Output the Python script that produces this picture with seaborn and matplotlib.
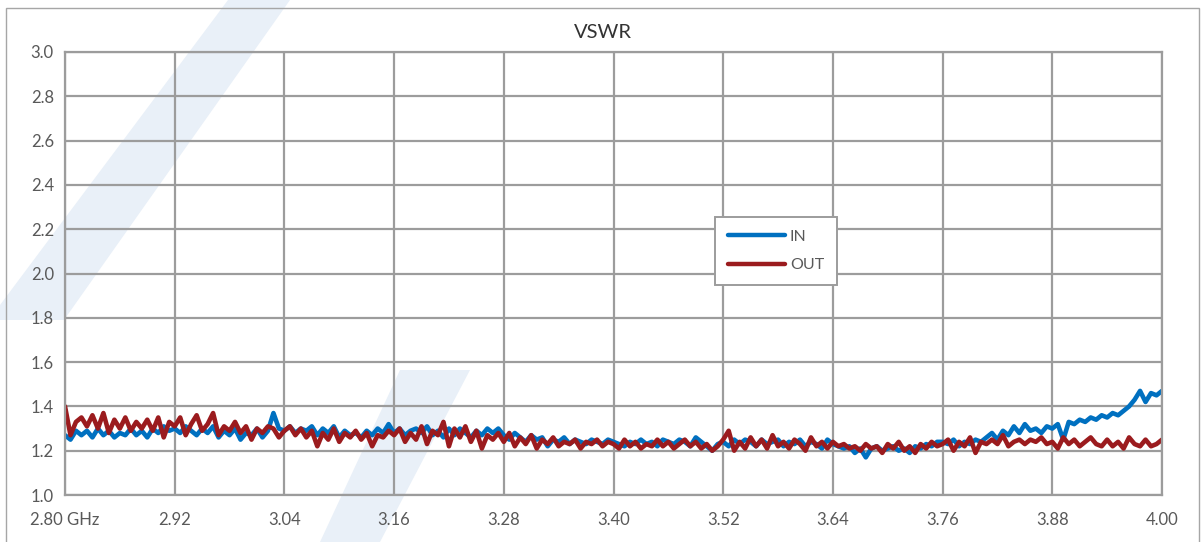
import numpy as np
import pandas as pd
import matplotlib
matplotlib.use("Agg")
import matplotlib.pyplot as plt
from matplotlib.patches import Polygon, Rectangle
import seaborn as sns

# ---- data ----
freq_start, freq_step = 2.80, 0.006
vswr_in = [
    1.27, 1.25, 1.29, 1.27, 1.29, 1.26, 1.30, 1.27, 1.29, 1.26, 1.28, 1.27, 1.30, 1.27, 1.29, 1.26, 1.30, 1.28, 1.31, 1.29,
    1.30, 1.28, 1.31, 1.29, 1.27, 1.30, 1.28, 1.31, 1.26, 1.29, 1.27, 1.30, 1.25, 1.28, 1.27, 1.30, 1.26, 1.29, 1.37, 1.30,
    1.29, 1.31, 1.28, 1.30, 1.29, 1.31, 1.27, 1.30, 1.28, 1.31, 1.26, 1.29, 1.27, 1.28, 1.26, 1.29, 1.27, 1.30, 1.28, 1.32,
    1.28, 1.30, 1.27, 1.29, 1.30, 1.28, 1.31, 1.27, 1.29, 1.26, 1.30, 1.27, 1.30, 1.28, 1.26, 1.29, 1.27, 1.30, 1.28, 1.30,
    1.27, 1.25, 1.28, 1.26, 1.24, 1.27, 1.25, 1.26, 1.22, 1.25, 1.24, 1.26, 1.23, 1.25, 1.24, 1.23, 1.25, 1.24, 1.23, 1.25,
    1.24, 1.23, 1.22, 1.24, 1.23, 1.25, 1.23, 1.24, 1.22, 1.25, 1.24, 1.23, 1.25, 1.24, 1.22, 1.26, 1.24, 1.22, 1.20, 1.23,
    1.24, 1.22, 1.25, 1.23, 1.25, 1.24, 1.22, 1.25, 1.23, 1.24, 1.25, 1.22, 1.24, 1.23, 1.25, 1.22, 1.24, 1.23, 1.21, 1.25,
    1.23, 1.22, 1.21, 1.22, 1.19, 1.21, 1.17, 1.21, 1.22, 1.20, 1.21, 1.22, 1.20, 1.21, 1.19, 1.22, 1.21, 1.23, 1.22, 1.24,
    1.24, 1.23, 1.25, 1.22, 1.24, 1.23, 1.25, 1.24, 1.26, 1.28, 1.25, 1.29, 1.27, 1.31, 1.28, 1.32, 1.29, 1.30, 1.28, 1.31,
    1.30, 1.32, 1.25, 1.33, 1.32, 1.34, 1.33, 1.35, 1.34, 1.36, 1.35, 1.37, 1.36, 1.38, 1.40, 1.43, 1.47, 1.42, 1.46, 1.45,
    1.47,
]
vswr_out = [
    1.40, 1.27, 1.33, 1.35, 1.31, 1.36, 1.30, 1.37, 1.28, 1.34, 1.30, 1.35, 1.29, 1.33, 1.30, 1.34, 1.29, 1.35, 1.26, 1.33,
    1.31, 1.35, 1.27, 1.32, 1.36, 1.29, 1.32, 1.37, 1.27, 1.31, 1.29, 1.33, 1.28, 1.31, 1.25, 1.30, 1.28, 1.31, 1.30, 1.26,
    1.29, 1.31, 1.27, 1.30, 1.26, 1.29, 1.22, 1.28, 1.25, 1.30, 1.24, 1.28, 1.26, 1.29, 1.25, 1.28, 1.22, 1.27, 1.26, 1.29,
    1.27, 1.30, 1.24, 1.28, 1.25, 1.31, 1.23, 1.29, 1.27, 1.33, 1.22, 1.30, 1.26, 1.31, 1.24, 1.29, 1.21, 1.27, 1.25, 1.28,
    1.24, 1.28, 1.22, 1.26, 1.23, 1.27, 1.21, 1.25, 1.23, 1.26, 1.22, 1.24, 1.23, 1.25, 1.21, 1.24, 1.23, 1.25, 1.22, 1.24,
    1.23, 1.21, 1.25, 1.22, 1.24, 1.21, 1.23, 1.22, 1.25, 1.22, 1.24, 1.21, 1.23, 1.25, 1.22, 1.24, 1.21, 1.23, 1.20, 1.22,
    1.25, 1.29, 1.20, 1.24, 1.21, 1.26, 1.22, 1.25, 1.21, 1.27, 1.22, 1.24, 1.21, 1.25, 1.23, 1.20, 1.26, 1.22, 1.24, 1.21,
    1.24, 1.22, 1.23, 1.21, 1.22, 1.20, 1.23, 1.21, 1.22, 1.19, 1.23, 1.21, 1.24, 1.20, 1.22, 1.19, 1.23, 1.21, 1.24, 1.22,
    1.23, 1.25, 1.20, 1.24, 1.22, 1.26, 1.19, 1.24, 1.23, 1.25, 1.23, 1.27, 1.22, 1.24, 1.25, 1.23, 1.25, 1.24, 1.26, 1.23,
    1.24, 1.21, 1.26, 1.23, 1.25, 1.22, 1.24, 1.26, 1.23, 1.22, 1.25, 1.22, 1.24, 1.21, 1.26, 1.23, 1.22, 1.25, 1.22, 1.23,
    1.25,
]
series_names = ["IN", "OUT"]
series_colors = ["#0070C0", "#9B1B1E"]
x_ticks = [2.80, 2.92, 3.04, 3.16, 3.28, 3.40, 3.52, 3.64, 3.76, 3.88, 4.00]
x_tick_labels = ["2.80 GHz", "2.92", "3.04", "3.16", "3.28", "3.40", "3.52", "3.64", "3.76", "3.88", "4.00"]
y_ticks = [1.0, 1.2, 1.4, 1.6, 1.8, 2.0, 2.2, 2.4, 2.6, 2.8, 3.0]
title = "VSWR"

freq = [round(freq_start + i * freq_step, 4) for i in range(len(vswr_in))]
df = pd.DataFrame({
    "freq": freq * 2,
    "vswr": vswr_in + vswr_out,
    "series": [series_names[0]] * len(vswr_in) + [series_names[1]] * len(vswr_out),
})

# ---- figure ----
sns.set_theme(style="white")
plt.rcParams["font.family"] = ["Lato", "DejaVu Sans"]

W, H = 1202, 542
fig = plt.figure(figsize=(W / 100, H / 100), dpi=100)
fig.patch.set_facecolor("white")

def px(pts):
    return [(x / W, 1 - y / H) for x, y in pts]

# faint watermark stripes behind the chart
wm = "#E9F0F8"
shapes = [
    [(228, 0), (290, 0), (64, 320), (0, 320), (0, 305)],
    [(400, 370), (470, 370), (380, 542), (320, 542)],
]
for s in shapes:
    fig.patches.append(Polygon(px(s), closed=True, transform=fig.transFigure,
                               facecolor=wm, edgecolor="none", zorder=0))
# outer chart border
fig.patches.append(Rectangle((6 / W, -0.05), (1199 - 6) / W, 1.05 - 8 / H,
                             transform=fig.transFigure, facecolor="none",
                             edgecolor="#A6A6A6", linewidth=1.0, zorder=0))

left, right, top, bottom = 65, 1162, 52, 495
ax = fig.add_axes([left / W, 1 - bottom / H, (right - left) / W, (bottom - top) / H])
ax.set_facecolor("none")
ax.set_zorder(5)

sns.lineplot(data=df, x="freq", y="vswr", hue="series", palette=series_colors,
             hue_order=series_names, linewidth=3.3, ax=ax, legend=True)

ax.set_xlim(2.80, 4.00)
ax.set_ylim(1.0, 3.0)
ax.set_xticks(x_ticks)
ax.set_xticklabels(x_tick_labels)
ax.set_yticks(y_ticks)
ax.set_yticklabels([f"{v:.1f}" for v in y_ticks])
ax.grid(True, color="#9C9C9C", linewidth=1.6)
ax.set_axisbelow(True)
for sp in ax.spines.values():
    sp.set_visible(True)
    sp.set_color("#9C9C9C")
    sp.set_linewidth(1.6)
ax.tick_params(axis="both", length=0, labelsize=12, labelcolor="#595959", pad=8)
ax.tick_params(axis="x", pad=12)
ax.set_xlabel("")
ax.set_ylabel("")

fig.text(603 / W, 1 - 33 / H, title, ha="center", va="center", fontsize=14.5, color="#333333")

leg = ax.legend(loc="center", bbox_to_anchor=(0.648, 0.551), frameon=True, fancybox=False,
                fontsize=11.5, handlelength=3.6, handletextpad=0.3, labelspacing=0.9,
                borderpad=0.8, borderaxespad=0)
leg.get_frame().set_edgecolor("#9C9C9C")
leg.get_frame().set_linewidth(1.4)
leg.get_frame().set_facecolor("white")
leg.get_frame().set_alpha(1)
for t in leg.get_texts():
    t.set_color("#595959")
for h in leg.get_lines():
    h.set_linewidth(3.2)

fig.savefig("out.png", dpi=100, facecolor="white")
